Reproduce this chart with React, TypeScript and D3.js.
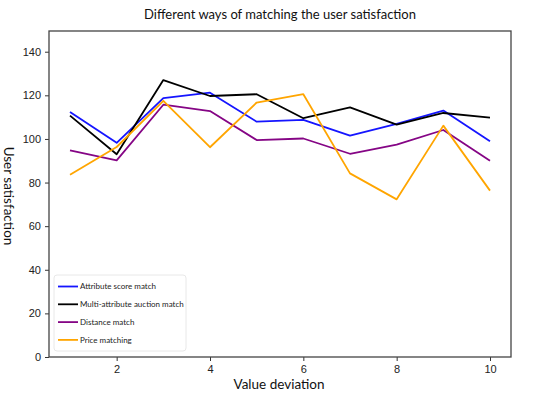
import {useEffect, useRef} from "react";
import * as d3 from "d3";

const xValues = [1, 2, 3, 4, 5, 6, 7, 8, 9, 10];
const attributeScore = [112.4, 98.2, 118.7, 121.2, 107.9, 108.7, 101.5, 106.9, 113, 98.9];
const multiAttribute = [110.7, 93, 127, 119.7, 120.5, 109.5, 114.5, 106.6, 111.9, 109.8];
const distanceMatch = [94.8, 90.2, 115.7, 112.8, 99.5, 100.2, 93.2, 97.4, 104.1, 90];
const priceMatching = [83.6, 96.3, 117.5, 96.2, 116.7, 120.5, 84.2, 72.3, 106.1, 76.3];

const seriesNames = ["Attribute score match", "Multi-attribute auction match", "Distance match", "Price matching"];
const seriesColors = ["#1515ff", "#000000", "#850585", "#ffa500"];
const xTicks = [2, 4, 6, 8, 10];
const yTicks = [0, 20, 40, 60, 80, 100, 120, 140];

export default function App() {
  const svgRef = useRef<SVGSVGElement>(null);

  useEffect(() => {
    if (!svgRef.current) return;
    const width = 550;
    const height = 396;
    const m = {top: 31, right: 39, bottom: 39, left: 49};

    const svg = d3.select(svgRef.current);
    svg.selectAll("*").remove();

    const x = d3.scaleLinear().domain([0.55, 10.45]).range([m.left, width - m.right]);
    const y = d3.scaleLinear().domain([0, 149.5]).range([height - m.bottom, m.top]);

    const tickFont = "'Liberation Sans Narrow', 'Arial Narrow', 'Liberation Sans', sans-serif";
    const textFont = "Lato, 'Open Sans', sans-serif";

    // ejes
    const xAxis = svg
      .append("g")
      .attr("transform", `translate(0,${height - m.bottom})`)
      .call(d3.axisBottom(x).tickValues(xTicks).tickSize(4).tickPadding(4).tickFormat(d3.format("d")));
    const yAxis = svg
      .append("g")
      .attr("transform", `translate(${m.left},0)`)
      .call(d3.axisLeft(y).tickValues(yTicks).tickSize(4).tickPadding(4).tickFormat(d3.format("d")));
    [xAxis, yAxis].forEach((a) => {
      a.select(".domain").remove();
      a.selectAll("line").attr("stroke", "#333").attr("stroke-width", 1);
      a.selectAll("text").attr("fill", "#222").style("font-size", "11px").style("font-family", tickFont);
    });

    // marco
    svg
      .append("rect")
      .attr("x", m.left)
      .attr("y", m.top)
      .attr("width", width - m.left - m.right)
      .attr("height", height - m.top - m.bottom)
      .attr("fill", "none")
      .attr("stroke", "#444")
      .attr("stroke-width", 1.3);

    const allSeries = [attributeScore, multiAttribute, distanceMatch, priceMatching];
    const line = d3
      .line<number>()
      .x((_, i) => x(xValues[i]))
      .y((d) => y(d));

    allSeries.forEach((s, i) => {
      svg
        .append("path")
        .datum(s)
        .attr("d", line)
        .attr("fill", "none")
        .attr("stroke", seriesColors[i])
        .attr("stroke-width", 1.8)
        .attr("stroke-linejoin", "round");
    });

    // leyenda
    const legend = svg.append("g").attr("transform", "translate(54,275)");
    legend
      .append("rect")
      .attr("width", 132)
      .attr("height", 76)
      .attr("rx", 3)
      .attr("fill", "#fff")
      .attr("stroke", "#e2e2e2")
      .attr("stroke-width", 0.8);
    seriesNames.forEach((name, i) => {
      const yy = 11.5 + i * 17.8;
      legend
        .append("line")
        .attr("x1", 4)
        .attr("x2", 24)
        .attr("y1", yy)
        .attr("y2", yy)
        .attr("stroke", seriesColors[i])
        .attr("stroke-width", 1.8);
      legend
        .append("text")
        .attr("x", 26)
        .attr("y", yy)
        .attr("dy", "0.35em")
        .style("font-size", "8px")
        .style("font-family", textFont)
        .attr("fill", "#222")
        .text(name);
    });

    // títulos
    svg
      .append("text")
      .attr("x", 280)
      .attr("y", 19)
      .attr("text-anchor", "middle")
      .style("font-size", "13px")
      .style("font-family", textFont)
      .attr("fill", "#111")
      .text("Different ways of matching the user satisfaction");
    svg
      .append("text")
      .attr("x", 279)
      .attr("y", 389)
      .attr("text-anchor", "middle")
      .style("font-size", "13.5px")
      .style("font-family", textFont)
      .attr("fill", "#111")
      .text("Value deviation");
    svg
      .append("text")
      .attr("transform", "translate(4,196) rotate(90)")
      .attr("text-anchor", "middle")
      .style("font-size", "13.5px")
      .style("font-family", textFont)
      .attr("fill", "#111")
      .text("User satisfaction");
  }, []);

  return (
    <svg
      ref={svgRef}
      width={550}
      height={396}
      style={{position: "absolute", left: 0, top: 0, background: "white", display: "block"}}
    />
  );
}
